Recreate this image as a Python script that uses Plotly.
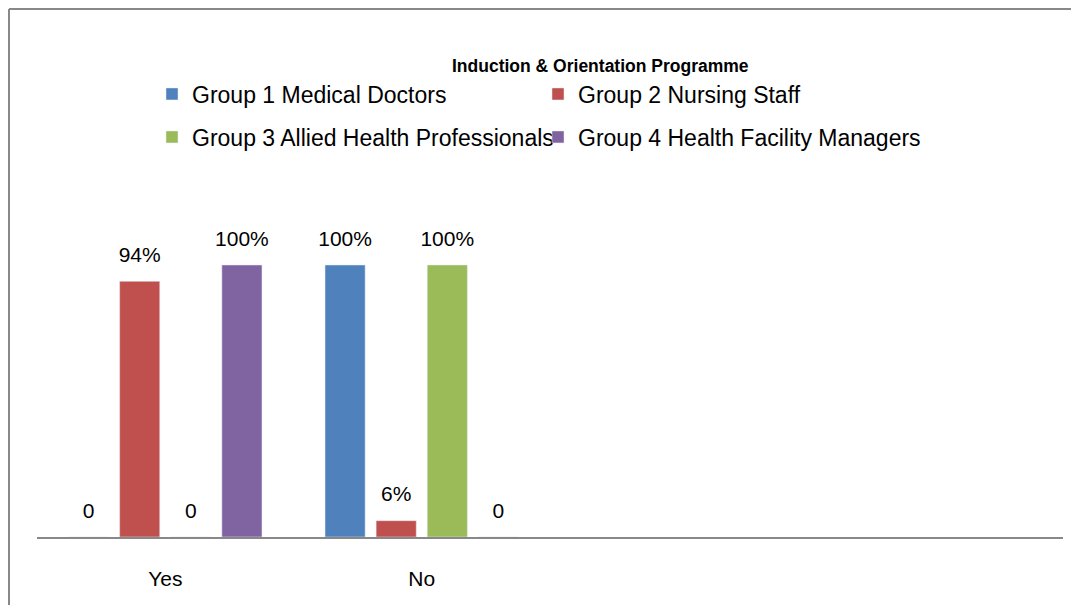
import plotly.graph_objects as go

categories = ["Yes", "No"]
series_names = [
    "Group 1 Medical Doctors",
    "Group 2 Nursing Staff",
    "Group 3 Allied Health Professionals",
    "Group 4 Health Facility Managers",
]
yes_values = [0, 94, 0, 100]
no_values = [100, 6, 100, 0]
colors = ["#4F81BD", "#C0504D", "#9BBB59", "#8064A2"]
title_text = "Induction & Orientation Programme"

# page has an 8px body margin, so the figure is drawn 8px in from the window edge
OFF = 8
W, H = 1079 - OFF, 605 - OFF
FONT = "Liberation Sans"
x_pos = list(range(len(categories)))


def px(x):
    return (x - OFF) / W


def py(y):
    return 1 - (y - OFF) / H


fig = go.Figure()
for i, name in enumerate(series_names):
    vals = [yes_values[i], no_values[i]]
    labels = [f"{v}%" if v else "0" for v in vals]
    fig.add_trace(go.Bar(
        x=x_pos, y=vals, name=name, marker_color=colors[i],
        offsetgroup=f"g{i}", legend="legend" if i < 2 else "legend2",
        hoverinfo="skip",
    ))
    fig.add_trace(go.Scatter(
        x=x_pos, y=vals, text=labels, mode="markers+text",
        textposition="top center", orientation="v",
        marker=dict(size=21, color="rgba(0,0,0,0)"),
        textfont=dict(family=FONT, size=21, color="#000000"),
        offsetgroup=f"g{i}", showlegend=False, hoverinfo="skip",
        cliponaxis=False,
    ))

base_px, top_px = 537, 210.6
fig.update_layout(
    width=W, height=H,
    margin=dict(l=0, r=0, t=0, b=0),
    paper_bgcolor="white", plot_bgcolor="white",
    barmode="group", bargap=0.203, bargroupgap=0.215,
    scattermode="group", scattergap=0.203,
    font=dict(family=FONT, color="#000000"),
    xaxis=dict(
        domain=[px(37), px(1063)], range=[-0.5, 3.5],
        tickvals=x_pos, ticktext=categories,
        tickfont=dict(family=FONT, size=21, color="#000000"),
        ticklabelstandoff=22,
        showline=True, linecolor="#888888", linewidth=2,
        showgrid=False, zeroline=False, ticks="",
    ),
    yaxis=dict(
        domain=[py(base_px), py(top_px)], range=[0, 120],
        visible=False, showgrid=False, zeroline=False,
    ),
    showlegend=True,
    legend=dict(
        orientation="h", x=px(152), xanchor="left", y=py(94), yanchor="middle",
        entrywidth=341, font=dict(family=FONT, size=23, color="#000000"),
        bgcolor="rgba(0,0,0,0)",
    ),
    legend2=dict(
        orientation="h", x=px(152), xanchor="left", y=py(137), yanchor="middle",
        entrywidth=341, font=dict(family=FONT, size=23, color="#000000"),
        bgcolor="rgba(0,0,0,0)",
    ),
    annotations=[dict(
        text=f"<b>{title_text}</b>", x=px(600), y=py(66),
        xref="paper", yref="paper", xanchor="center", yanchor="middle",
        showarrow=False, font=dict(family=FONT, size=17.5, color="#000000"),
    )],
    shapes=[
        dict(type="line", xref="paper", yref="paper", x0=px(9), x1=1.01,
             y0=py(9), y1=py(9), line=dict(color="#888888", width=2)),
        dict(type="line", xref="paper", yref="paper", x0=px(9), x1=px(9),
             y0=-0.01, y1=py(9), line=dict(color="#888888", width=2)),
    ],
)

fig.write_html("out.html")
